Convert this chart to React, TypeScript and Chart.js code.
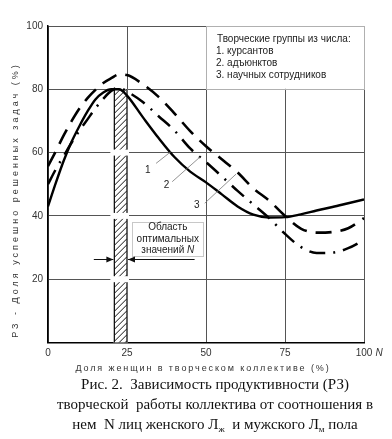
import React, { useEffect, useRef } from 'react';
import { Chart, registerables } from 'chart.js';

Chart.register(...registerables);

// ---- data ----
const xValues = [0, 2.5, 5, 7.5, 10, 12.5, 15, 17.5, 20, 22.5, 25, 30, 35, 40, 45, 50, 55, 60, 65, 70, 75, 80, 85, 90, 95, 100];
const cadets = [43, 50.5, 57.5, 63.5, 68.5, 73, 76.8, 79, 80, 80, 78, 71.2, 64.6, 58.6, 54, 50.6, 46.8, 43, 40.4, 39.5, 39.6, 40.5, 41.7, 42.8, 44, 45.2];
const adjuncts = [50, 54.8, 59, 63.2, 67, 70.5, 74, 77, 79.5, 80.5, 79.3, 76, 71.5, 67, 61.3, 57, 52.5, 47.9, 43.6, 39.3, 34.3, 30.2, 28.3, 28.4, 29.8, 32.4];
const researchers = [55.7, 60.5, 65.5, 70, 74, 77.2, 79.8, 82, 83.5, 84.7, 84.5, 81.6, 77.6, 72.4, 66.8, 62, 57.9, 53.7, 48.7, 44.8, 40, 36, 34.7, 34.9, 36.1, 39.3];
const seriesLabels = ['1', '2', '3'];
const xTicks = [0, 25, 50, 75, 100];
const yTicks = [20, 40, 60, 80, 100];

const legendTitle = 'Творческие группы из числа:';
const legendItems = ['1. курсантов', '2. адъюнктов', '3. научных сотрудников'];
const yTitle = 'РЗ - Доля успешно решенных задач (%)';
const xTitle = 'Доля женщин в творческом коллективе (%)';
const regionLines = ['Область', 'оптимальных', 'значений'];

const bandRange = [21, 25];
const bandTop = 80;

const FONT = '"Liberation Sans", Arial, sans-serif';

const overlay = {
  id: 'overlay',
  beforeDatasetsDraw(chart: any) {
    const { ctx, scales } = chart;
    const x = scales.x, y = scales.y;
    const l = x.getPixelForValue(bandRange[0]);
    const r = x.getPixelForValue(bandRange[1]);
    const t = y.getPixelForValue(bandTop);
    const b = y.getPixelForValue(0);
    ctx.save();
    ctx.fillStyle = '#fff';
    ctx.fillRect(l - 1, t, r - l + 2, b - t);
    ctx.save();
    ctx.beginPath();
    ctx.rect(l, t, r - l, b - t);
    ctx.clip();
    ctx.strokeStyle = '#111';
    ctx.lineWidth = 1;
    const w = r - l;
    for (let yy = t - w; yy < b + w; yy += 6) {
      ctx.beginPath();
      ctx.moveTo(l, yy + w);
      ctx.lineTo(r, yy);
      ctx.stroke();
    }
    ctx.restore();
    ctx.strokeStyle = '#111';
    ctx.lineWidth = 1.3;
    ctx.beginPath();
    ctx.moveTo(l, t); ctx.lineTo(l, b);
    ctx.moveTo(r, t); ctx.lineTo(r, b);
    ctx.stroke();
    ctx.fillStyle = '#fff';
    [20, 40, 60].forEach((v) => {
      const py = y.getPixelForValue(v);
      ctx.fillRect(l - 4, py - 3, r - l + 6, 6);
    });
    ctx.restore();
  },
  afterDatasetsDraw(chart: any) {
    const { ctx, scales } = chart;
    const x = scales.x, y = scales.y;
    const px = (v: number) => x.getPixelForValue(v);
    const py = (v: number) => y.getPixelForValue(v);
    ctx.save();

    // legend box
    const lx = px(50), rx = px(100), ty = py(100), by = py(80);
    ctx.fillStyle = '#fff';
    ctx.fillRect(lx + 0.5, ty + 0.5, rx - lx - 1, by - ty - 1);
    ctx.strokeStyle = '#b0b0b0';
    ctx.lineWidth = 1;
    ctx.strokeRect(Math.round(lx) + 0.5, Math.round(ty) + 0.5, Math.round(rx - lx), Math.round(by - ty));
    ctx.fillStyle = '#222';
    ctx.font = '10px ' + FONT;
    ctx.textAlign = 'left';
    ctx.textBaseline = 'middle';
    ctx.fillText(legendTitle, lx + 11, ty + 13);
    legendItems.forEach((s, i) => ctx.fillText(s, lx + 10, ty + 25.5 + i * 12));

    // region box
    const bl = px(26.6), br = px(49.2), bt = py(38.2), bb = py(27.3);
    ctx.fillStyle = '#fff';
    ctx.fillRect(bl, bt, br - bl, bb - bt);
    ctx.strokeStyle = '#c8c8c8';
    ctx.strokeRect(Math.round(bl) + 0.5, Math.round(bt) + 0.5, Math.round(br - bl), Math.round(bb - bt));
    const cx = (bl + br) / 2;
    ctx.fillStyle = '#222';
    ctx.textAlign = 'center';
    ctx.fillText(regionLines[0], cx, bt + 6);
    ctx.fillText(regionLines[1], cx, bt + 17.5);
    const w1 = ctx.measureText(regionLines[2] + ' ').width;
    ctx.font = 'italic 10px ' + FONT;
    const w2 = ctx.measureText('N').width;
    ctx.font = '10px ' + FONT;
    ctx.textAlign = 'left';
    const sx = cx - (w1 + w2) / 2;
    ctx.fillText(regionLines[2] + ' ', sx, bt + 29);
    ctx.font = 'italic 10px ' + FONT;
    ctx.fillText('N', sx + w1, bt + 29);

    // arrows
    const ay = Math.round(py(26.4)) + 0.5;
    const arrow = (x1: number, x2: number) => {
      ctx.strokeStyle = '#111';
      ctx.lineWidth = 1;
      ctx.beginPath();
      ctx.moveTo(x1, ay);
      ctx.lineTo(x2, ay);
      ctx.stroke();
      const d = x2 > x1 ? 1 : -1;
      ctx.fillStyle = '#111';
      ctx.beginPath();
      ctx.moveTo(x2, ay);
      ctx.lineTo(x2 - d * 7, ay - 3);
      ctx.lineTo(x2 - d * 7, ay + 3);
      ctx.closePath();
      ctx.fill();
    };
    arrow(px(14.5), px(bandRange[0]) - 1);
    arrow(px(46.4), px(bandRange[1]) + 1);

    // curve labels with leaders
    const labels = [
      { t: seriesLabels[0], at: [31.6, 54.4], from: [34.2, 56.6], to: [38.9, 60.3] },
      { t: seriesLabels[1], at: [37.5, 49.6], from: [39.3, 50.8], to: [48.1, 58.6] },
      { t: seriesLabels[2], at: [47.1, 43.3], from: [49.6, 44.0], to: [59.5, 53.2] },
    ];
    ctx.strokeStyle = '#777';
    ctx.lineWidth = 0.8;
    ctx.fillStyle = '#222';
    ctx.font = '10px ' + FONT;
    ctx.textAlign = 'center';
    labels.forEach((o) => {
      ctx.beginPath();
      ctx.moveTo(px(o.from[0]), py(o.from[1]));
      ctx.lineTo(px(o.to[0]), py(o.to[1]));
      ctx.stroke();
      ctx.fillText(o.t, px(o.at[0]), py(o.at[1]));
    });

    // N after x axis
    ctx.font = 'italic 10px ' + FONT;
    ctx.fillStyle = '#333';
    ctx.textAlign = 'center';
    ctx.fillText('N', px(100) + 15, py(0) + 11);

    // axis titles (letter-spaced)
    ctx.fillStyle = '#333';
    ctx.font = '9px ' + FONT;
    (ctx as any).letterSpacing = '1.9px';
    ctx.textAlign = 'center';
    ctx.fillText(xTitle, 203, py(0) + 26);
    ctx.translate(16, 200);
    ctx.rotate(-Math.PI / 2);
    (ctx as any).letterSpacing = '3px';
    ctx.fillText(yTitle, 0, 0);
    ctx.restore();
  },
};

export default function App() {
  const ref = useRef<HTMLCanvasElement | null>(null);
  useEffect(() => {
    if (!ref.current) return;
    Chart.defaults.font.family = FONT;
    const mk = (vals: number[]) => xValues.map((xv, i) => ({ x: xv, y: vals[i] }));
    const chart = new Chart(ref.current, {
      type: 'line',
      data: {
        datasets: [
          { label: seriesLabels[0], data: mk(cadets), borderColor: '#000', borderWidth: 2.4, pointRadius: 0, cubicInterpolationMode: 'monotone', borderCapStyle: 'butt' },
          { label: seriesLabels[1], data: mk(adjuncts), borderColor: '#000', borderWidth: 2.5, pointRadius: 0, cubicInterpolationMode: 'monotone', borderDash: [16, 8, 2, 8], borderCapStyle: 'butt' },
          { label: seriesLabels[2], data: mk(researchers), borderColor: '#000', borderWidth: 2.6, pointRadius: 0, cubicInterpolationMode: 'monotone', borderDash: [16, 9], borderCapStyle: 'butt' },
        ],
      } as any,
      options: {
        responsive: false,
        animation: false,
        layout: { padding: { left: 0, right: 28, top: 26, bottom: 0 } },
        plugins: { legend: { display: false }, tooltip: { enabled: false } },
        scales: {
          x: {
            type: 'linear', min: 0, max: 100,
            afterBuildTicks: (s: any) => { s.ticks = xTicks.map((v) => ({ value: v })); },
            ticks: { color: '#333', font: { size: 10 }, padding: 5, maxRotation: 0 },
            grid: { color: '#555', lineWidth: 1, drawTicks: false },
            border: { color: '#000', width: 1.5 },
            afterFit: (s: any) => { s.height = 37.5; },
          },
          y: {
            min: 0, max: 100,
            afterBuildTicks: (s: any) => { s.ticks = [0, ...yTicks].map((v) => ({ value: v })); },
            ticks: { color: '#333', font: { size: 10 }, padding: 5, callback: (v: any) => (v === 0 ? '' : String(v)) },
            grid: { color: '#555', lineWidth: 1, drawTicks: false },
            border: { color: '#000', width: 1.5 },
            afterFit: (s: any) => { s.width = 48; },
          },
        },
      } as any,
      plugins: [overlay],
    });
    return () => chart.destroy();
  }, []);

  return (
    <div style={{ position: 'absolute', left: 0, top: 0, width: 392, height: 439, background: '#fff', overflow: 'hidden' }}>
      <canvas ref={ref} width={392} height={380} style={{ position: 'absolute', left: 0, top: 0 }} />
      <div style={{ position: 'absolute', left: 38, top: 374, width: 354, textAlign: 'center', fontFamily: '"Liberation Serif", "Times New Roman", serif', fontSize: 15, lineHeight: '20px', color: '#111', whiteSpace: 'nowrap' }}>
        <div>Рис. 2.&nbsp; Зависимость продуктивности (РЗ)</div>
        <div>творческой&nbsp; работы коллектива от соотношения в</div>
        <div>нем&nbsp; N лиц женского Л<sub style={{ fontSize: 9, verticalAlign: '-3px' }}>ж</sub>&nbsp; и мужского Л<sub style={{ fontSize: 9, verticalAlign: '-3px' }}>м</sub> пола</div>
      </div>
    </div>
  );
}
